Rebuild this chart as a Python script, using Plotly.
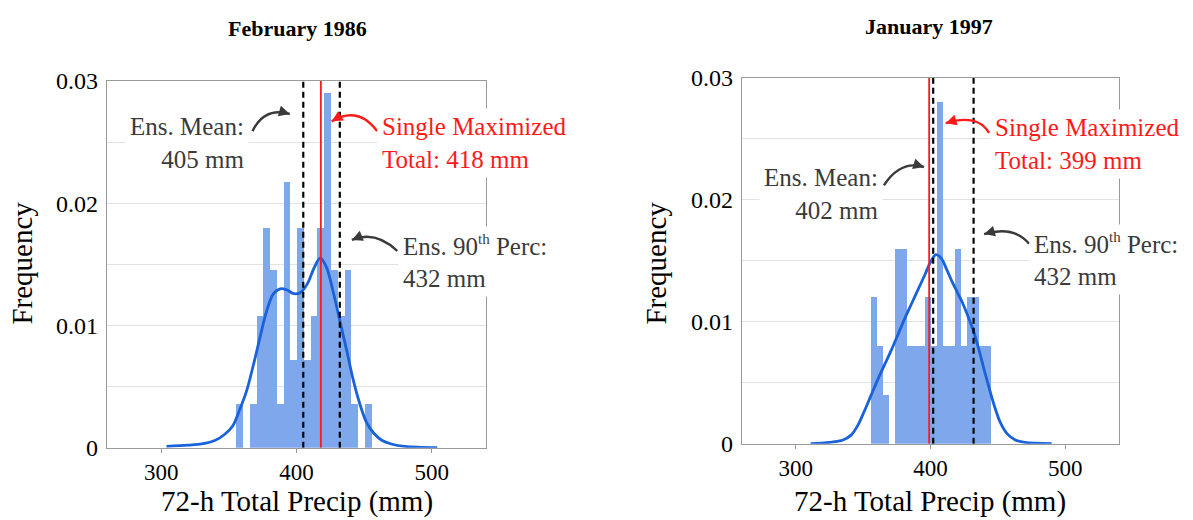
import plotly.graph_objects as go

# ---------------- data ----------------
panel_titles = ["February 1986", "January 1997"]

# histogram bin edges (mm) and densities
feb_bin_edges = [355.5, 360.5, 365.5, 370.5, 375.5, 380.5, 385.5, 390.5, 395.5, 400.5, 405.5,
                 410.5, 415.5, 420.5, 425.5, 430.5, 435.5, 440.5, 445.5, 450.5, 455.5]
feb_density = [0.0036, 0.0, 0.0036, 0.0108, 0.018, 0.0145, 0.0036, 0.0217, 0.0072, 0.018,
               0.0072, 0.0108, 0.018, 0.029, 0.0145, 0.0108, 0.0145, 0.0036, 0.0, 0.0036]

jan_bin_edges = [355.9, 360.3, 364.8, 369.2, 373.6, 378.1, 382.5, 386.9, 391.4, 395.8, 400.3,
                 404.7, 409.1, 413.6, 418.0, 422.4, 426.9, 431.3, 435.7, 440.2, 444.6]
jan_density = [0.012, 0.008, 0.004, 0.0, 0.016, 0.016, 0.008, 0.008, 0.008, 0.012,
               0.008, 0.028, 0.008, 0.008, 0.016, 0.008, 0.012, 0.012, 0.008, 0.008]

# kernel density curves
feb_kde_x = [304, 320, 330, 340, 347, 353, 358, 363, 368, 373, 378, 383, 388, 393, 398, 403,
             408, 413, 417.5, 422, 427, 432, 437, 442, 447, 452, 457, 463, 470, 480, 504]
feb_kde_y = [0.0001, 0.0002, 0.0003, 0.0006, 0.0011, 0.0018, 0.0031, 0.0046, 0.0067, 0.0090,
             0.0112, 0.0126, 0.0130, 0.0129, 0.0126, 0.0127, 0.0134, 0.0147, 0.0155, 0.0148,
             0.0128, 0.0104, 0.0080, 0.0055, 0.0035, 0.0020, 0.0012, 0.0006, 0.0003, 0.0001, 0.0]

jan_kde_x = [311, 325, 335, 341, 346, 351, 356, 361, 366, 371, 376, 381, 386, 391, 396, 400,
             404, 408, 412, 416, 420, 424, 428, 432, 436, 440, 444, 448, 452, 457, 463, 470, 490]
jan_kde_y = [0.0, 0.0001, 0.0003, 0.0007, 0.0015, 0.0027, 0.0040, 0.0053, 0.0065, 0.0077,
             0.0090, 0.0103, 0.0115, 0.0127, 0.0139, 0.0149, 0.0155, 0.0152, 0.0143, 0.0133,
             0.0124, 0.0115, 0.0104, 0.0092, 0.0077, 0.0060, 0.0044, 0.0029, 0.0017, 0.0008,
             0.0003, 0.0001, 0.0]

ens_mean = [405, 402]
single_max = [418, 399]
ens_p90 = [432, 432]

x_tick_vals = [300, 400, 500]
y_tick_vals = [0, 0.01, 0.02, 0.03]
y_tick_text = ["0", "0.01", "0.02", "0.03"]

# ---------------- style ----------------
FONT = "Liberation Serif, Times New Roman, serif"
BAR_COLOR = "#7fa7ec"
KDE_COLOR = "#1a62d9"
RED = "#ff1a1a"
ARROW_GREY = "#3a3a3a"
TEXT_GREY = "#3a3a3a"

W, H = 1193, 520
# vertical placement helper (pixel row -> paper fraction), calibrated on the rendered page
PAPER_TOP, PAPER_H = 11.8, 495.2


def py(y_px):
    return 1 - (y_px - PAPER_TOP) / PAPER_H


fig = go.Figure()

panels = [
    dict(edges=feb_bin_edges, dens=feb_density, kx=feb_kde_x, ky=feb_kde_y, xa="x", ya="y"),
    dict(edges=jan_bin_edges, dens=jan_density, kx=jan_kde_x, ky=jan_kde_y, xa="x2", ya="y2"),
]

for p in panels:
    e = p["edges"]
    centers = [(e[i] + e[i + 1]) / 2 for i in range(len(e) - 1)]
    widths = [e[i + 1] - e[i] for i in range(len(e) - 1)]
    fig.add_trace(go.Bar(x=centers, y=p["dens"], width=widths, marker=dict(color=BAR_COLOR, line=dict(width=0)),
                         xaxis=p["xa"], yaxis=p["ya"], showlegend=False))
    fig.add_trace(go.Scatter(x=p["kx"], y=p["ky"], mode="lines", line=dict(color=KDE_COLOR, width=2.8, shape="spline"),
                             xaxis=p["xa"], yaxis=p["ya"], showlegend=False))

shapes = []
for i, (xa, ya) in enumerate([("x", "y"), ("x2", "y2")]):
    shapes.append(dict(type="line", xref=xa, yref=ya, x0=single_max[i], x1=single_max[i], y0=0, y1=0.03,
                       line=dict(color=RED, width=1.8), layer="above"))
    for v in (ens_mean[i], ens_p90[i]):
        shapes.append(dict(type="line", xref=xa, yref=ya, x0=v, x1=v, y0=0, y1=0.03,
                           line=dict(color="black", width=2.2, dash="6px,4px"), layer="above"))

annotations = []

# curved arrows: (start, control, head) in data coordinates
arrows = [
    ("x", "y", (367.5, 0.0259), (376.4, 0.0279), (395.0, 0.0273), ARROW_GREY),
    ("x", "y", (459.5, 0.0259), (445.6, 0.0280), (426.0, 0.0267), RED),
    ("x", "y", (474.4, 0.0161), (458.2, 0.0178), (440.9, 0.0170), ARROW_GREY),
    ("x2", "y2", (365.4, 0.0212), (377.8, 0.0233), (395.2, 0.0227), ARROW_GREY),
    ("x2", "y2", (443.5, 0.0255), (434.9, 0.0271), (411.3, 0.0263), RED),
    ("x2", "y2", (473.2, 0.0164), (462.1, 0.0179), (439.8, 0.0172), ARROW_GREY),
]
for xa, ya, s, c, h, col in arrows:
    shapes.append(dict(type="path", xref=xa, yref=ya,
                       path=f"M {s[0]},{s[1]} Q {c[0]},{c[1]} {h[0]},{h[1]}",
                       line=dict(color=col, width=2.4), layer="above"))
    tail = (h[0] - 0.3 * (h[0] - c[0]), h[1] - 0.3 * (h[1] - c[1]))
    annotations.append(dict(xref=xa, yref=ya, axref=xa, ayref=ya, x=h[0], y=h[1], ax=tail[0], ay=tail[1],
                            text="", showarrow=True, arrowhead=2, arrowsize=0.9, arrowwidth=2.4,
                            arrowcolor=col, standoff=0))

TH = "<sup><span style='font-size:15px'>th</span></sup>"
# text labels
labels = [
    ("x", "y", 365.0, 0.0249, "right", f"Ens. Mean:<br>{ens_mean[0]} mm", TEXT_GREY),
    ("x", "y", 459.5, 0.0249, "left", f"Single Maximized<br>Total: {single_max[0]} mm", RED),
    ("x", "y", 475.0, 0.0152, "left", f"Ens. 90{TH} Perc:<br>{ens_p90[0]} mm", TEXT_GREY),
    ("x2", "y2", 365.0, 0.0205, "right", f"Ens. Mean:<br>{ens_mean[1]} mm", TEXT_GREY),
    ("x2", "y2", 444.5, 0.0246, "left", f"Single Maximized<br>Total: {single_max[1]} mm", RED),
    ("x2", "y2", 473.0, 0.0151, "left", f"Ens. 90{TH} Perc:<br>{ens_p90[1]} mm", TEXT_GREY),
]
for xa, ya, x, y, anc, txt, col in labels:
    annotations.append(dict(xref=xa, yref=ya, x=x, y=y, xanchor=anc, yanchor="middle", align=anc,
                            text=txt, showarrow=False, bgcolor="white", borderpad=4,
                            font=dict(family=FONT, size=25, color=col)))

# panel titles and axis titles
title_specs = [(297, 27, panel_titles[0]), (929, 25, panel_titles[1])]
for cx, cy, t in title_specs:
    annotations.append(dict(xref="paper", yref="paper", x=cx / W, y=py(cy), xanchor="center", yanchor="middle",
                            text=f"<b>{t}</b>", showarrow=False, font=dict(family=FONT, size=22, color="black")))
for cx in (297, 930):
    annotations.append(dict(xref="paper", yref="paper", x=cx / W, y=py(501), xanchor="center", yanchor="middle",
                            text="72-h Total Precip (mm)", showarrow=False, font=dict(family=FONT, size=29, color="black")))
for cx in (22, 656):
    annotations.append(dict(xref="paper", yref="paper", x=cx / W, y=py(263), xanchor="center", yanchor="middle",
                            text="Frequency", textangle=-90, showarrow=False, font=dict(family=FONT, size=29, color="black")))

axis_common_x = dict(range=[260, 540], tickvals=x_tick_vals, showgrid=False, zeroline=False,
                     showline=True, mirror=True, linecolor="#9a9a9a", linewidth=1.2,
                     ticks="outside", ticklen=4, tickcolor="#9a9a9a",
                     tickfont=dict(family=FONT, size=23, color="black"))
axis_common_y = dict(range=[0, 0.03], tickvals=y_tick_vals, ticktext=y_tick_text, showgrid=True,
                     gridcolor="#e2e2e2", gridwidth=1.3, zeroline=False,
                     showline=True, mirror=True, linecolor="#9a9a9a", linewidth=1.2,
                     ticks="", ticklabelstandoff=3, tickfont=dict(family=FONT, size=24, color="black"),
                     minor=dict(dtick=0.005, tick0=0, showgrid=True, gridcolor="#e2e2e2", gridwidth=1.3))

fig.update_layout(
    width=W, height=H, margin=dict(l=0, r=0, t=0, b=0),
    paper_bgcolor="white", plot_bgcolor="white", bargap=0, showlegend=False,
    xaxis=dict(domain=[107 / W, 486 / W], anchor="y", **axis_common_x),
    yaxis=dict(domain=[py(447.5), py(80)], anchor="x", **axis_common_y),
    xaxis2=dict(domain=[742 / W, 1119 / W], anchor="y2", **axis_common_x),
    yaxis2=dict(domain=[py(443.5), py(77)], anchor="x2", **axis_common_y),
    shapes=shapes, annotations=annotations,
)

fig.write_html("out.html")
